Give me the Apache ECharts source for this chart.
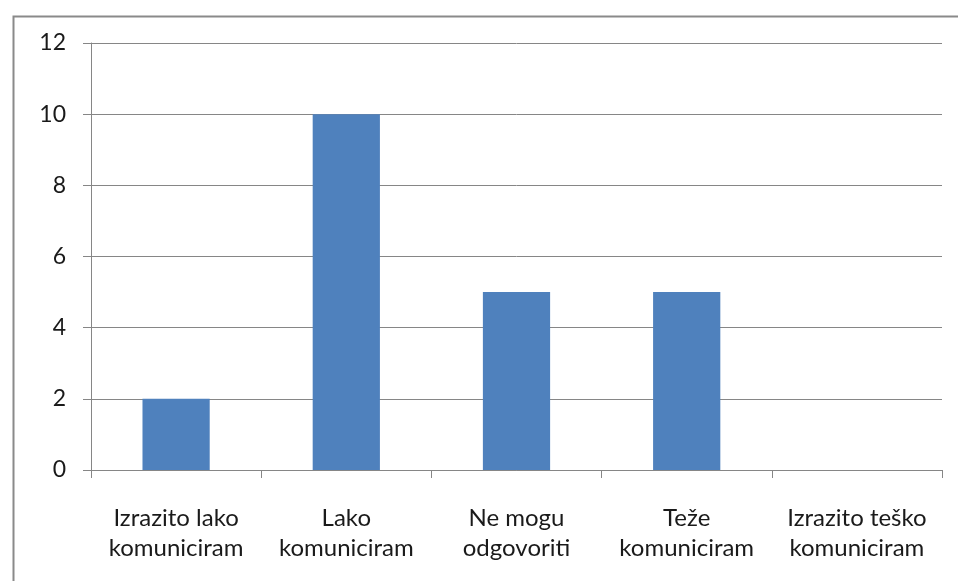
<!DOCTYPE html>
<html>
<head>
<meta charset="utf-8">
<script src="https://cdn.jsdelivr.net/npm/echarts@6/dist/echarts.min.js"></script>
<style>html,body{margin:0;padding:0;background:#fff}#c{width:958px;height:581px}</style>
</head>
<body>
<div id="c"></div>
<script>
var categories = ['Izrazito lako\nkomuniciram', 'Lako\nkomuniciram', 'Ne mogu\nodgovoriti', 'Teže\nkomuniciram', 'Izrazito teško\nkomuniciram'];
var values = [2, 10, 5, 5, 0];
var yTicks = [0, 2, 4, 6, 8, 10, 12];

var chart = echarts.init(document.getElementById('c'));
var font = 'Lato, "Open Sans", sans-serif';
chart.setOption({
  animation: false,
  backgroundColor: '#fff',
  graphic: [{
    type: 'rect', left: 11, top: 14, z: 100,
    shape: { width: 1000, height: 700 },
    style: { fill: 'none', stroke: '#8a8a8a', lineWidth: 2 }
  }],
  grid: { left: 91, right: 16, top: 43, bottom: 111, containLabel: false },
  xAxis: {
    type: 'category',
    data: categories,
    axisLine: { lineStyle: { color: '#868686', width: 1 } },
    axisTick: { show: true, alignWithLabel: false, length: 8, lineStyle: { color: '#868686' } },
    axisLabel: { color: '#1a1a1a', fontSize: 24, fontFamily: font, lineHeight: 30, margin: 33, interval: 0 }
  },
  yAxis: {
    type: 'value',
    min: yTicks[0], max: yTicks[yTicks.length - 1], interval: 2,
    axisLine: { show: true, lineStyle: { color: '#868686', width: 1 } },
    axisTick: { show: true, length: 8, lineStyle: { color: '#868686' } },
    splitLine: { show: true, lineStyle: { color: '#868686', width: 1 } },
    axisLabel: { color: '#1a1a1a', fontSize: 23, fontFamily: font, margin: 25 }
  },
  series: [{
    type: 'bar',
    data: values,
    barWidth: '39.5%',
    itemStyle: { color: '#4F81BD' }
  }]
});
</script>
</body>
</html>
